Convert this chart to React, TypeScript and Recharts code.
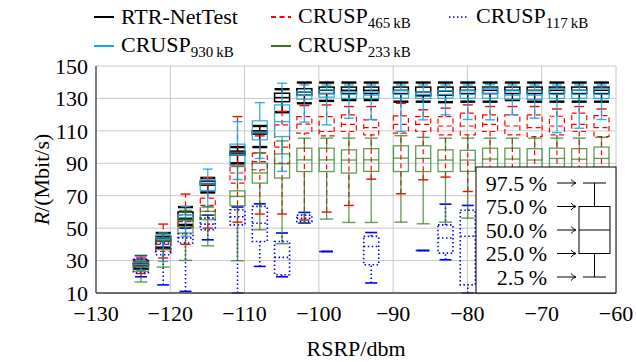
import { ComposedChart, Bar, XAxis, YAxis, CartesianGrid } from "recharts";

// RSRP bin centres (dBm)
const rsrp = [-124, -121, -118, -115, -111, -108, -105, -102, -99, -96, -93, -89, -86, -83, -80, -77, -74, -71, -68, -65, -62];

// quantiles per bin: [2.5 %, 25 %, 50 %, 75 %, 97.5 %], Mbit/s
const rtrNetTest = [
  [25, 27, 27.5, 28.5, 30],
  [38, 42, 43.5, 45, 47],
  [52, 55.2, 56, 60, 63],
  [72, 76.5, 77.5, 79, 81],
  [90, 95, 96.3, 97.5, 100],
  [100, 108, 109, 110, 113],
  [121.5, 128, 130.5, 133.2, 135.7],
  [127, 132, 134, 136, 139.8],
  [128.5, 133, 135, 137, 139.8],
  [129, 133, 135, 137, 139.8],
  [129, 133, 135, 137, 139.8],
  [128, 133, 135, 137, 139.8],
  [128, 131.6, 134, 137, 139.8],
  [127.7, 132, 134.5, 137, 139.8],
  [128, 133, 135, 137, 139.8],
  [128, 133, 135, 137, 139.8],
  [129, 133, 135, 137, 139.8],
  [128, 133, 135, 137, 139.8],
  [128, 133, 135, 137, 139.8],
  [128, 133, 135, 137, 139.8],
  [128, 133, 135, 137, 139.8],
];

const crusp465 = [
  [22, 26, 28, 30, 31.6],
  [31.6, 35.6, 40, 43.9, 52.5],
  [40, 50.7, 54, 58.2, 71],
  [50, 60.3, 64, 68.5, 80.9],
  [53.7, 77.8, 84, 89, 118.8],
  [58.7, 86, 91, 96.3, 106.9],
  [58.7, 90.1, 100, 113.7, 122],
  [55, 108.6, 114.1, 118.8, 125.6],
  [59.9, 106.9, 109.6, 118.8, 126],
  [64, 109.6, 114, 119.9, 125],
  [80.2, 107.5, 112, 116.8, 125],
  [71.2, 108.6, 114, 119.2, 127],
  [79.8, 109.6, 114, 118.8, 123],
  [81.5, 107.5, 113, 118.8, 124],
  [72.6, 107.5, 113, 120.9, 126],
  [75, 109.6, 114, 119.9, 125],
  [76, 107.5, 113, 119.9, 125],
  [74, 106.5, 112, 119.9, 125],
  [74, 107.5, 113, 119, 123.5],
  [75, 109.6, 114, 120.9, 125],
  [74, 106.5, 112, 119.4, 123.5],
];

const crusp117 = [
  [20, 22.5, 27, 31, 33],
  [15, 33.6, 38, 40.8, 44],
  [11, 40.8, 44, 46.5, 50],
  [42.8, 49, 52.5, 56.2, 58],
  [10, 52, 57, 61.3, 63],
  [26.4, 41.8, 53, 63.4, 65],
  [20, 21.3, 32, 41.8, 47],
  [53.1, 54, 56, 58, 59.7],
  [35.6, 35.6, 35.6, 35.6, 35.6],
  null,
  [16.2, 27.4, 38.7, 44.9, 47.3],
  null,
  [36.2, 36.2, 36.2, 36.2, 36.2],
  [30.5, 34.6, 43.9, 52, 64.8],
  [10, 15, 45, 61, 64],
  null,
  null,
  null,
  null,
  null,
  null,
];

const crusp930 = [
  [24, 26.4, 27.5, 28.9, 30],
  [29.5, 43, 44, 45.5, 47],
  [45, 54.8, 56.5, 58.2, 63.4],
  [63.4, 73.2, 77.3, 79.8, 86.4],
  [80, 88.4, 95, 101.8, 115.7],
  [93, 104.5, 109, 116.2, 127.4],
  [85, 106.5, 115.7, 126, 139.4],
  [115.4, 129.5, 131.8, 134.2, 138.3],
  [113.7, 130.8, 133, 135.3, 138.3],
  [117.8, 130, 132.5, 134.2, 138.3],
  [117, 130, 132, 134, 138.3],
  [109.6, 130.1, 132.5, 134.8, 138.3],
  [116.8, 130, 132.5, 134, 138.3],
  [119.9, 130.1, 132.5, 134.8, 138.3],
  [117, 130.1, 132.5, 134.8, 138.3],
  [116.8, 130.1, 133, 136.3, 138.5],
  [119.9, 129.4, 132, 134.7, 138.3],
  [117.8, 129.4, 132, 134.7, 138.3],
  [108.9, 130, 132.5, 136, 138.3],
  [111.6, 130, 132.5, 135, 138.3],
  [117, 130, 132.5, 136, 138.3],
];

const crusp233 = [
  [16.8, 23.3, 26.4, 29.3, 33.2],
  [26, 36.7, 41.8, 43.9, 46.5],
  [30.1, 47, 50.7, 55.2, 60.9],
  [39.1, 55.2, 58, 60.3, 63],
  [29.9, 63.8, 69.5, 73, 88],
  [49, 77.8, 84, 90.1, 96.5],
  [40.4, 80.9, 89.7, 95.8, 103.8],
  [53, 84.9, 92.1, 99.3, 105.5],
  [55.6, 84.9, 92.1, 99.3, 105.5],
  [53.5, 84, 92, 98.3, 105.5],
  [53.5, 85, 92.1, 99, 105.5],
  [53.7, 84.9, 93.2, 100.8, 107],
  [52.7, 84.9, 93, 100.8, 106],
  [53.7, 84.9, 92, 98.3, 105.5],
  [56.2, 85, 92, 98, 105.5],
  [55, 87, 92.6, 99.3, 105.5],
  [55, 87, 92.6, 99.3, 105.5],
  [55, 87, 92, 99, 105.5],
  [55, 87.5, 93, 99.3, 105.5],
  [55, 87, 92.5, 99, 105.5],
  [55, 87.5, 93, 100, 106],
];

const xTicks = [-130, -120, -110, -100, -90, -80, -70, -60];
const yTicks = [10, 30, 50, 70, 90, 110, 130, 150];
const quantileLabels = ["97.5", "75.0", "50.0", "25.0", "2.5"];

const FONT = "Liberation Serif, Tinos, Times New Roman, Times, DejaVu Serif, Noto Serif, serif";

const series = [
  { name: "RTR-NetTest", sub: "", values: rtrNetTest, color: "#000000", dash: undefined, width: 1.5, capWidth: 2.4, cap: 7.5, opacity: 1 },
  { name: "CRUSP", sub: "465\u2009kB", values: crusp465, color: "#ff0000", dash: "5 3.5", width: 1.2, capWidth: 1.4, cap: 5, opacity: 1 },
  { name: "CRUSP", sub: "117\u2009kB", values: crusp117, color: "#0000ff", dash: "1.5 2.5", width: 1.6, capWidth: 1.6, cap: 6, opacity: 1 },
  { name: "CRUSP", sub: "930\u2009kB", values: crusp930, color: "#1ea6e2", dash: undefined, width: 1.3, capWidth: 1.4, cap: 5, opacity: 0.9 },
  { name: "CRUSP", sub: "233\u2009kB", values: crusp233, color: "#2f7a1a", dash: undefined, width: 1.3, capWidth: 1.4, cap: 6.5, opacity: 0.75 },
];

const rows = rsrp.map((x, i) => {
  const qs = series.map((s) => s.values[i]).filter((q) => q) as number[][];
  const lo = Math.min(...qs.map((q) => q[0]));
  const hi = Math.max(...qs.map((q) => q[4]));
  return { rsrp: x, idx: i, span: [lo, hi] };
});

const fmt = (v: number) => (v < 0 ? `\u2212${-v}` : `${v}`);

// one bar per bin spans all whiskers; the shape draws every series' box inside it
function BoxGroup(props: any) {
  const { x, y, width, height, payload } = props;
  if (!payload) return null;
  const cx = x + width / 2;
  const top = Math.min(y, y + height);
  const bottom = Math.max(y, y + height);
  const [lo, hi] = payload.span;
  const py = (v: number) => bottom - ((v - lo) / (hi - lo)) * (bottom - top);
  const half = 7.5;
  return (
    <g>
      {series.map((s, k) => {
        const q = s.values[payload.idx];
        if (!q) return null;
        const common = {
          stroke: s.color,
          strokeWidth: s.width,
          strokeDasharray: s.dash,
          strokeOpacity: s.opacity,
          fill: "none",
        };
        const [p0, p1, p2, p3, p4] = q.map(py);
        return (
          <g key={k}>
            <line x1={cx} x2={cx} y1={p0} y2={p1} {...common} />
            <line x1={cx} x2={cx} y1={p3} y2={p4} {...common} />
            <line x1={cx - s.cap} x2={cx + s.cap} y1={p0} y2={p0} {...common} strokeWidth={s.capWidth} strokeDasharray={undefined} />
            <line x1={cx - s.cap} x2={cx + s.cap} y1={p4} y2={p4} {...common} strokeWidth={s.capWidth} strokeDasharray={undefined} />
            <rect x={cx - half} y={p3} width={half * 2} height={Math.max(p1 - p3, 0)} {...common} />
            <line x1={cx - half} x2={cx + half} y1={p2} y2={p2} {...common} />
          </g>
        );
      })}
    </g>
  );
}

function YLabel(props: any) {
  const vb = props.viewBox || { x: 0, y: 66, width: 96, height: 227 };
  const cx = 41;
  const cy = vb.y + vb.height / 2;
  return (
    <text x={cx} y={cy} transform={`rotate(-90, ${cx}, ${cy})`} textAnchor="middle" dominantBaseline="central" fontFamily={FONT} fontSize={22} fill="#000">
      <tspan fontStyle="italic">R</tspan>/(Mbit/s)
    </text>
  );
}

function LegendSample({ s }: { s: (typeof series)[number] }) {
  return (
    <svg width={20} height={6} style={{ marginRight: 7, flex: "none" }}>
      <line x1={0} x2={20} y1={3} y2={3} stroke={s.color} strokeWidth={s.dash && s.dash.startsWith("1.5") ? 1.6 : 2} strokeDasharray={s.dash} />
    </svg>
  );
}

function TopLegend() {
  const cols = [94, 271, 449];
  const rowY = [17, 46];
  const layout = [[0, 1, 2], [3, 4]];
  return (
    <>
      {layout.map((r, ri) =>
        r.map((si, ci) => {
          const s = series[si];
          return (
            <div key={si} style={{ position: "absolute", left: cols[ci], top: rowY[ri] - 13, height: 26, display: "flex", alignItems: "center", fontFamily: FONT, fontSize: 22, lineHeight: "26px", whiteSpace: "nowrap", color: "#000" }}>
              <LegendSample s={s} />
              <span>
                {s.name}
                {s.sub && <span style={{ fontSize: 15, position: "relative", top: 5 }}>{s.sub}</span>}
              </span>
            </div>
          );
        })
      )}
    </>
  );
}

function BoxLegend() {
  const left = 476, top = 167, w = 140, h = 126;
  const rowsY = [183, 206.5, 230, 253.5, 277];
  const cx = 594.5;
  return (
    <svg width={636} height={362} style={{ position: "absolute", left: 0, top: 0, pointerEvents: "none" }}>
      <rect x={left} y={top} width={w} height={h} fill="#fff" stroke="#000" strokeWidth={1} />
      {quantileLabels.map((t, i) => (
        <g key={t}>
          <text x={547} y={rowsY[i]} dominantBaseline="central" textAnchor="end" fontFamily={FONT} fontSize={22} fill="#000">
            {t}{"\u2009"}%
          </text>
          <line x1={557} x2={575} y1={rowsY[i]} y2={rowsY[i]} stroke="#000" strokeWidth={1} />
          <path d={`M ${571} ${rowsY[i] - 3.5} Q ${573} ${rowsY[i] - 1} ${576} ${rowsY[i]} Q ${573} ${rowsY[i] + 1} ${571} ${rowsY[i] + 3.5}`} fill="none" stroke="#000" strokeWidth={1} />
        </g>
      ))}
      <line x1={cx} x2={cx} y1={rowsY[0]} y2={rowsY[1]} stroke="#000" />
      <line x1={cx} x2={cx} y1={rowsY[3]} y2={rowsY[4]} stroke="#000" />
      <line x1={cx - 11.5} x2={cx + 11.5} y1={rowsY[0]} y2={rowsY[0]} stroke="#000" />
      <line x1={cx - 11.5} x2={cx + 11.5} y1={rowsY[4]} y2={rowsY[4]} stroke="#000" />
      <rect x={cx - 15.5} y={rowsY[1]} width={31} height={rowsY[3] - rowsY[1]} fill="none" stroke="#000" />
      <line x1={cx - 15.5} x2={cx + 15.5} y1={rowsY[2]} y2={rowsY[2]} stroke="#000" />
    </svg>
  );
}

export default function App() {
  return (
    <div style={{ position: "absolute", left: 0, top: 0, width: 636, height: 362, background: "#fff" }}>
      <ComposedChart width={636} height={362} data={rows} margin={{ top: 66, right: 20, bottom: 0, left: 0 }}>
        <CartesianGrid stroke="#c8c8c8" strokeWidth={1} />
        <XAxis
          type="number"
          dataKey="rsrp"
          domain={[-130, -60]}
          ticks={xTicks}
          tickFormatter={fmt}
          height={69}
          tickSize={0}
          tickMargin={12}
          axisLine={{ stroke: "#444", strokeWidth: 1.3 }}
          tick={{ fill: "#000", fontSize: 22, fontFamily: FONT }}
          label={{ value: "RSRP/dbm", position: "insideBottom", offset: 6, fill: "#000", fontSize: 22, fontFamily: FONT }}
        />
        <YAxis
          type="number"
          domain={[10, 150]}
          ticks={yTicks}
          width={96}
          tickSize={0}
          tickMargin={8}
          axisLine={{ stroke: "#444", strokeWidth: 1.3 }}
          tick={{ fill: "#000", fontSize: 22, fontFamily: FONT }}
          label={<YLabel />}
        />
        <Bar dataKey="span" barSize={15} isAnimationActive={false} shape={(p: any) => <BoxGroup {...p} />} />
      </ComposedChart>
      <TopLegend />
      <BoxLegend />
    </div>
  );
}
